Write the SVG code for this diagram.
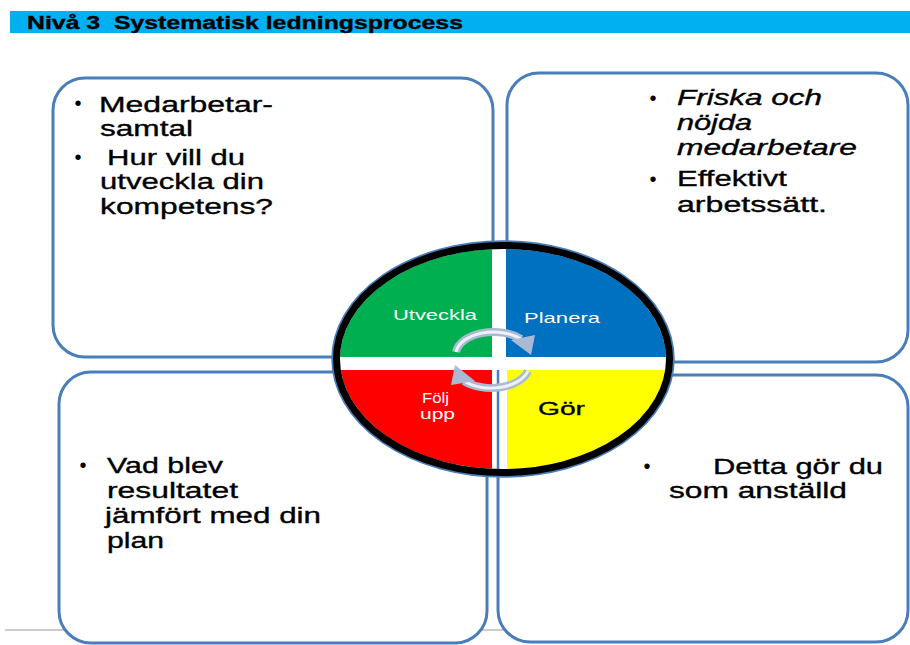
<svg xmlns="http://www.w3.org/2000/svg" width="910" height="645" viewBox="0 0 910 645">
<style>
.box{fill:#fff;stroke:#4A7EBB;stroke-width:3}
.t{font-family:"Liberation Sans",Arial,sans-serif;fill:#000;stroke:#000;stroke-width:0.35}
.b{font-family:"Liberation Sans",Arial,sans-serif;fill:#000;font-size:20px;text-anchor:middle}
.w{font-family:"Liberation Sans",Arial,sans-serif;fill:#fff;font-size:14.5px}
.arr{fill:none;stroke:#A9BBD3;stroke-width:8}
.arrin{fill:none;stroke:#EEF2F7;stroke-width:3}
.head{fill:#A9BBD3}
</style>
<defs>
<clipPath id="inner"><ellipse cx="503" cy="359" rx="163" ry="110"/></clipPath>
</defs>
<rect x="0" y="0" width="910" height="645" fill="#fff"/>
<g id="title">
<rect x="10" y="11" width="900" height="22" fill="#00B0F0"/>
<text class="t" x="27" y="29" font-size="18" font-weight="bold" xml:space="preserve" style="white-space:pre" textLength="436" lengthAdjust="spacingAndGlyphs">Nivå 3  Systematisk ledningsprocess</text>
</g>
<line x1="5" y1="630" x2="850" y2="630" stroke="#999" stroke-width="1"/>
<g id="box-top-left">
<rect class="box" x="53" y="78" width="440" height="279" rx="32"/>
<text class="b" x="78" y="110">•</text>
<text class="t" font-size="22.5" x="99" y="112" textLength="174" lengthAdjust="spacingAndGlyphs">Medarbetar-</text>
<text class="t" font-size="22.5" x="100" y="136" textLength="93" lengthAdjust="spacingAndGlyphs">samtal</text>
<text class="b" x="78" y="164">•</text>
<text class="t" font-size="22.5" x="107" y="165" textLength="138" lengthAdjust="spacingAndGlyphs">Hur vill du</text>
<text class="t" font-size="22.5" x="100" y="189" textLength="164" lengthAdjust="spacingAndGlyphs">utveckla din</text>
<text class="t" font-size="22.5" x="100" y="214" textLength="173" lengthAdjust="spacingAndGlyphs">kompetens?</text>
</g>
<g id="box-top-right">
<rect class="box" x="507" y="73" width="401" height="289" rx="32"/>
<text class="b" x="653" y="105">•</text>
<text class="t" font-size="22" font-style="italic" x="677" y="105" textLength="145" lengthAdjust="spacingAndGlyphs">Friska och</text>
<text class="t" font-size="22" font-style="italic" x="677" y="130" textLength="75" lengthAdjust="spacingAndGlyphs">nöjda</text>
<text class="t" font-size="22" font-style="italic" x="677" y="155" textLength="180" lengthAdjust="spacingAndGlyphs">medarbetare</text>
<text class="b" x="653" y="186">•</text>
<text class="t" font-size="22" x="677" y="186" textLength="110" lengthAdjust="spacingAndGlyphs">Effektivt</text>
<text class="t" font-size="22" x="677" y="212" textLength="150" lengthAdjust="spacingAndGlyphs">arbetssätt.</text>
</g>
<g id="box-bottom-left">
<rect class="box" x="59" y="372" width="428" height="271" rx="32"/>
<text class="b" x="83" y="472">•</text>
<text class="t" font-size="22.5" x="107" y="473" textLength="116" lengthAdjust="spacingAndGlyphs">Vad blev</text>
<text class="t" font-size="22.5" x="107" y="498" textLength="131" lengthAdjust="spacingAndGlyphs">resultatet</text>
<text class="t" font-size="22.5" x="105" y="523" textLength="216" lengthAdjust="spacingAndGlyphs">jämfört med din</text>
<text class="t" font-size="22.5" x="107" y="548" textLength="57" lengthAdjust="spacingAndGlyphs">plan</text>
</g>
<g id="box-bottom-right">
<rect class="box" x="498" y="375" width="410" height="267" rx="32"/>
<text class="b" x="647" y="473">•</text>
<text class="t" font-size="22.5" x="713" y="474" textLength="170" lengthAdjust="spacingAndGlyphs">Detta gör du</text>
<text class="t" font-size="22.5" x="669" y="498" textLength="178" lengthAdjust="spacingAndGlyphs">som anställd</text>
</g>
<g id="cycle">
<ellipse cx="503" cy="359" rx="170.5" ry="117.5" fill="#fff" stroke="#4A7EBB" stroke-width="2.5"/>
<g clip-path="url(#inner)">
<rect x="330" y="240" width="162" height="117" fill="#00B050"/>
<rect x="506" y="240" width="180" height="117" fill="#0070C0"/>
<rect x="330" y="370" width="162" height="110" fill="#FF0000"/>
<rect x="507" y="370" width="180" height="110" fill="#FFFF00"/>
<line x1="498" y1="370" x2="498" y2="480" stroke="#4A7EBB" stroke-width="2.5"/>
</g>
<ellipse cx="503" cy="359" rx="166.5" ry="113.5" fill="none" stroke="#000" stroke-width="7"/>
<text class="w" x="393" y="320" textLength="84" lengthAdjust="spacingAndGlyphs">Utveckla</text>
<text class="w" x="524" y="323" textLength="76" lengthAdjust="spacingAndGlyphs">Planera</text>
<text class="w" x="422" y="403" textLength="27" lengthAdjust="spacingAndGlyphs">Följ</text>
<text class="w" x="420" y="419" textLength="35" lengthAdjust="spacingAndGlyphs">upp</text>
<text class="t" font-size="19" x="538" y="415" textLength="47" lengthAdjust="spacingAndGlyphs">Gör</text>
</g>
<g id="connectors">
<path class="arr" d="M456,352 A38,23 0 0 1 521,339"/>
<path class="arrin" d="M456,352 A38,23 0 0 1 521,339"/>
<polygon class="head" points="511,340 535,335 531,355"/>
<path class="arr" d="M528,371 A38,23 0 0 1 464,381"/>
<path class="arrin" d="M528,371 A38,23 0 0 1 464,381"/>
<polygon class="head" points="475,381 451,385 455,365"/>
</g>
</svg>
